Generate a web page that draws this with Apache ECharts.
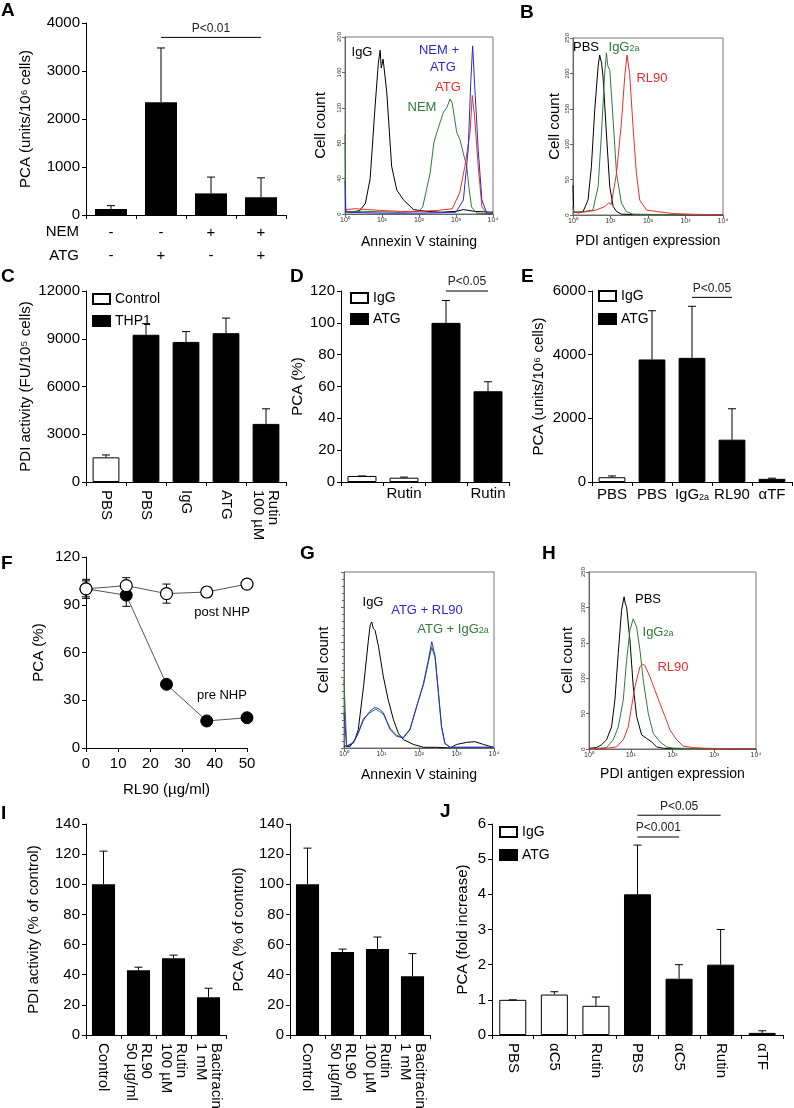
<!DOCTYPE html>
<html>
<head>
<meta charset="utf-8">
<title>PDI / PCA figure</title>
<script src="https://cdn.jsdelivr.net/npm/echarts@6.0.0/dist/echarts.min.js"></script>
<style>
  html, body { margin: 0; padding: 0; background: #fff; }
  #container { width: 794px; height: 1108px; }
</style>
</head>
<body>
<div id="container"></div>
<script type="text/javascript">

// ---------- values ----------
// A (bars)
var aValues = [125, 2350, 450, 370];
var aErrTop = [195, 3480, 790, 775];
var aNem = ['-', '-', '+', '+'];
var aAtg = ['-', '+', '-', '+'];

// A (annexin V histogram), points are [decade, count]
var aHistIgG = [[0, 3], [0.2, 2], [0.4, 4], [0.55, 12], [0.68, 40], [0.81, 120], [0.9, 170], [0.95, 185], [0.98, 165], [1.03, 175], [1.13, 137], [1.26, 54], [1.4, 27], [1.58, 16], [1.85, 5], [2.2, 3], [2.6, 2], [3.0, 3], [3.2, 5], [3.5, 3], [4, 2]];
var aHistNem = [[0, 90], [0.02, 3], [0.5, 3], [1.5, 2], [2.0, 3], [2.1, 8], [2.3, 46], [2.4, 80], [2.48, 92], [2.66, 115], [2.75, 120], [2.84, 130], [2.9, 125], [3.02, 92], [3.1, 85], [3.15, 77], [3.22, 65], [3.29, 54], [3.35, 30], [3.42, 8], [3.56, 1], [4, 0]];
var aHistAtg = [[0, 5], [0.3, 6], [0.6, 5], [1.0, 4], [1.5, 3], [2.0, 3], [2.5, 4], [2.9, 6], [3.1, 24], [3.24, 54], [3.38, 92], [3.44, 134], [3.5, 111], [3.6, 54], [3.7, 8], [3.83, 1], [4, 0]];
var aHistNemAtg = [[0, 38], [0.02, 2], [1, 1], [2, 1], [3.0, 2], [3.2, 16], [3.33, 73], [3.4, 150], [3.45, 190], [3.5, 149], [3.6, 73], [3.7, 16], [3.83, 1], [4, 0]];

// B (PDI antigen histogram)
var bHistPbs = [[0, 42], [0.02, 4], [0.15, 3], [0.27, 5], [0.4, 21], [0.49, 68], [0.58, 149], [0.67, 210], [0.71, 226], [0.76, 215], [0.8, 196], [0.89, 116], [0.98, 40], [1.07, 12], [1.16, 5], [1.3, 1], [4, 0]];
var bHistIgG2a = [[0, 12], [0.02, 4], [0.3, 5], [0.53, 7], [0.67, 40], [0.76, 116], [0.84, 196], [0.89, 229], [0.93, 210], [0.98, 205], [1.07, 134], [1.16, 59], [1.29, 17], [1.42, 5], [1.6, 1], [4, 0]];
var bHistRl90 = [[0, 4], [0.3, 4], [0.62, 7], [0.85, 12], [0.95, 17], [1.02, 15], [1.07, 14], [1.16, 59], [1.29, 130], [1.38, 196], [1.44, 226], [1.51, 200], [1.6, 125], [1.69, 59], [1.78, 21], [1.96, 7], [2.22, 5], [2.67, 2], [3.2, 1], [4, 0]];

// C
var cLabels = ['PBS', 'PBS', 'IgG', 'ATG', 'Rutin\n100 µM'];
var cValues = [1550, 9250, 8800, 9350, 3650];
var cErrTop = [1700, 9950, 9450, 10300, 4600];
var cGroup = [0, 1, 1, 1, 1];

// D
var dLabels = ['', 'Rutin', '', 'Rutin'];
var dValues = [3.8, 2.7, 100, 57];
var dErrTop = [3.8, 3.1, 114, 63];
var dGroup = [0, 0, 1, 1];

// E
var eLabels = ['PBS', 'PBS', 'IgG{s|2a}', 'RL90', 'αTF'];
var eValues = [150, 3850, 3900, 1330, 100];
var eErrTop = [190, 5380, 5520, 2300, 120];
var eGroup = [0, 1, 1, 1, 1];

// F
var fDose = [0, 12.5, 25, 37.5, 50];
var fPost = [100, 102, 97, 98, 103];
var fPostSd = [6, 5, 6, 3, 0];
var fPre = [100, 96, 40, 17, 19];
var fPreSd = [5, 7, 0, 0, 0];

// G (annexin V histogram)
var gHistIgG = [[0, 3], [0.16, 2], [0.29, 12], [0.38, 26], [0.52, 87], [0.65, 153], [0.7, 175], [0.74, 179], [0.78, 170], [0.83, 167], [0.92, 144], [1.05, 101], [1.18, 68], [1.32, 40], [1.45, 21], [1.58, 12], [1.85, 5], [2.12, 1], [2.47, 1], [2.83, 0], [3.0, 5], [3.27, 8], [3.49, 9], [3.72, 5], [3.98, 1]];
var gHistIgG2a = [[0, 97], [0.07, 3], [0.25, 8], [0.38, 22], [0.52, 42], [0.69, 50], [0.85, 55], [0.95, 52], [1.05, 48], [1.23, 28], [1.4, 18], [1.58, 15], [1.76, 27], [1.94, 60], [2.12, 90], [2.25, 122], [2.34, 143], [2.43, 128], [2.52, 76], [2.6, 30], [2.69, 6], [2.83, 1], [4, 1]];
var gHistRl90 = [[0, 50], [0.07, 2], [0.25, 7], [0.38, 21], [0.52, 40], [0.69, 52], [0.8, 57], [0.87, 57], [0.95, 55], [1.05, 50], [1.23, 26], [1.4, 17], [1.58, 14], [1.76, 26], [1.94, 59], [2.12, 92], [2.25, 125], [2.34, 151], [2.43, 130], [2.52, 78], [2.6, 31], [2.69, 7], [2.83, 1], [4, 1]];

// H (PDI antigen histogram)
var hHistPbs = [[0, 1], [0.18, 2], [0.3, 6], [0.42, 13], [0.54, 31], [0.62, 69], [0.7, 135], [0.78, 196], [0.84, 215], [0.87, 205], [0.9, 201], [0.98, 154], [1.06, 88], [1.14, 46], [1.26, 20], [1.38, 15], [1.5, 10], [1.62, 3], [1.78, 1], [4, 0]];
var hHistIgG2a = [[0, 0], [0.42, 2], [0.58, 13], [0.7, 31], [0.82, 69], [0.9, 125], [0.98, 168], [1.06, 184], [1.14, 172], [1.22, 140], [1.3, 97], [1.42, 50], [1.54, 22], [1.7, 10], [1.86, 3], [2.02, 1], [4, 0]];
var hHistRl90 = [[0, 0], [0.42, 1], [0.66, 3], [0.82, 13], [0.94, 31], [1.02, 60], [1.1, 88], [1.22, 116], [1.28, 120], [1.34, 118], [1.46, 102], [1.58, 83], [1.7, 64], [1.82, 46], [1.94, 27], [2.1, 13], [2.26, 4], [2.5, 2], [2.82, 1], [4, 0]];

// I
var iLabels = ['Control', 'RL90\n50 µg/ml', 'Rutin\n100 µM', 'Bacitracin\n1 mM'];
var iPdiValues = [100, 43, 51, 25];
var iPdiErrTop = [122, 45, 53, 31];
var iPcaValues = [100, 55, 57, 39];
var iPcaErrTop = [124, 57, 65, 54];

// J
var jLabels = ['PBS', 'αC5', 'Rutin', 'PBS', 'αC5', 'Rutin', 'αTF'];
var jValues = [1.0, 1.15, 0.83, 4.0, 1.6, 2.0, 0.06];
var jErrTop = [1.0, 1.23, 1.08, 5.4, 2.0, 3.0, 0.12];
var jGroup = [0, 0, 0, 1, 1, 1, 1];

var decadeLabels = ['10⁰', '10¹', '10²', '10³', '10⁴'];

var sigMarks = [
    { g: 0, from: 1, to: 3, y: 3700, text: 'P<0.01' },
    { g: 4, from: 2, to: 3, y: 120, text: 'P<0.05' },
    { g: 5, from: 2, to: 3, y: 5800, text: 'P<0.05' },
    { g: 11, from: 3, to: 4, y: 5.63, text: 'P<0.001' },
    { g: 11, from: 3, to: 5, y: 6.25, text: 'P<0.05' }
];

// ---------- layout ----------
var FONT = 'Liberation Sans';
var FS = 15;
var GREEN = '#2f7a3a', RED = '#e8302a', BLUE = '#2a2ad2';

// [left, top, width, height] for each plot
var boxes = [
    [86, 23, 200, 192],   // 0  A bars
    [345, 37, 148, 177],  // 1  A histogram
    [573, 38, 150, 177],  // 2  B histogram
    [86, 291, 200, 191],  // 3  C
    [341, 291, 168, 191], // 4  D
    [592, 291, 200, 191], // 5  E
    [86, 557, 161, 191],  // 6  F
    [344, 572, 150, 176], // 7  G
    [589, 572, 167, 177], // 8  H
    [86, 824, 140, 211],  // 9  I left
    [290, 824, 140, 211], // 10 I right
    [492, 824, 291, 211]  // 11 J
];
var histGrids = [1, 2, 7, 8];

var dom = document.getElementById('container');
var myChart = echarts.init(dom, null, { renderer: 'canvas' });

function plain(v) { return String(v); }

function catAxis(g, cats, label) {
    return {
        type: 'category', gridIndex: g, data: cats,
        axisLine: { show: true, lineStyle: { color: '#000', width: 1 } },
        axisTick: { show: true, length: 4, lineStyle: { color: '#000' } },
        splitLine: { show: false },
        axisLabel: Object.assign({ color: '#000', fontFamily: FONT, fontSize: FS, margin: 6, interval: 0 }, label || {})
    };
}

function valAxis(g, max, step, name, gap) {
    return {
        type: 'value', gridIndex: g, min: 0, max: max, interval: step,
        name: name, nameLocation: 'middle', nameGap: gap, nameRotate: 90,
        nameTextStyle: { fontFamily: FONT, fontSize: FS, color: '#000' },
        axisLine: { show: true, lineStyle: { color: '#000', width: 1 } },
        axisTick: { show: true, length: 4, lineStyle: { color: '#000' } },
        splitLine: { show: false },
        axisLabel: { color: '#000', fontFamily: FONT, fontSize: FS, margin: 6, formatter: plain }
    };
}

function histX(g, name, gap) {
    return {
        type: 'value', gridIndex: g, min: 0, max: 4, interval: 1,
        name: name, nameLocation: 'middle', nameGap: gap,
        nameTextStyle: { fontFamily: FONT, fontSize: 14, color: '#000' },
        axisLine: { show: true, lineStyle: { color: '#666' } },
        axisTick: { show: true, length: 3, lineStyle: { color: '#666' } },
        splitLine: { show: false },
        axisLabel: { formatter: function (v) { return decadeLabels[v]; }, fontSize: 7, margin: 3, color: '#333', fontFamily: FONT }
    };
}

function histY(g, max, step, gap, showLabel) {
    return {
        type: 'value', gridIndex: g, min: 0, max: max, interval: step,
        name: 'Cell count', nameLocation: 'middle', nameGap: gap, nameRotate: 90,
        nameTextStyle: { fontFamily: FONT, fontSize: 15, color: '#000' },
        axisLine: { show: true, lineStyle: { color: '#666' } },
        axisTick: { show: true, length: 3, lineStyle: { color: '#666' } },
        minorTick: { show: !showLabel, splitNumber: 5, length: 2, lineStyle: { color: '#666' } },
        splitLine: { show: false },
        axisLabel: { show: showLabel, rotate: 90, fontSize: 6, margin: 3, color: '#333', fontFamily: FONT }
    };
}

function histLine(g, data, color) {
    return {
        type: 'line', xAxisIndex: g, yAxisIndex: g, data: data,
        symbol: 'none', lineStyle: { color: color, width: 1 }, z: 3
    };
}

function splitBars(g, values, groups, names, width) {
    var styles = [
        { color: '#fff', borderColor: '#000', borderWidth: 1 },
        { color: '#000', borderColor: '#000', borderWidth: 1 }
    ];
    return names.map(function (name, k) {
        return {
            type: 'bar', name: name, xAxisIndex: g, yAxisIndex: g,
            barWidth: width, barGap: '-100%',
            itemStyle: styles[k],
            data: values.map(function (v, i) { return groups[i] === k ? v : '-'; })
        };
    });
}

function plainBars(g, values, width) {
    return {
        type: 'bar', xAxisIndex: g, yAxisIndex: g, barWidth: width,
        itemStyle: { color: '#000' }, data: values
    };
}

function errBars(g, data, cap, both) {
    return {
        type: 'custom', xAxisIndex: g, yAxisIndex: g, z: both ? 1 : 3,
        silent: true,
        renderItem: function (params, api) {
            var x = api.value(0);
            var lo = api.coord([x, api.value(1)]);
            var hi = api.coord([x, api.value(2)]);
            var st = { stroke: '#000', lineWidth: 1 };
            var kids = [
                { type: 'line', shape: { x1: lo[0], y1: lo[1], x2: hi[0], y2: hi[1] }, style: st },
                { type: 'line', shape: { x1: hi[0] - cap, y1: hi[1], x2: hi[0] + cap, y2: hi[1] }, style: st }
            ];
            if (both) {
                kids.push({ type: 'line', shape: { x1: lo[0] - cap, y1: lo[1], x2: lo[0] + cap, y2: lo[1] }, style: st });
            }
            return { type: 'group', children: kids };
        },
        data: data
    };
}

function upErr(values, tops) {
    return values.map(function (v, i) { return [i, v, tops[i]]; });
}

function legendAt(x, y, names, gap) {
    return {
        left: x, top: y, orient: 'vertical', data: names, icon: 'rect',
        itemWidth: 17, itemHeight: 10, itemGap: gap, padding: 0, selectedMode: false,
        textStyle: { fontSize: 14, fontFamily: FONT, color: '#000' }
    };
}

var subRich = { s: { fontSize: 9, fontFamily: FONT, color: '#000', verticalAlign: 'bottom', padding: [5, 0, 0, 0] } };

var option = {
    animation: false,
    backgroundColor: '#fff',
    textStyle: { fontFamily: FONT },
    grid: boxes.map(function (b, i) {
        return {
            left: b[0], top: b[1], width: b[2], height: b[3],
            containLabel: false, outerBoundsMode: 'none',
            show: histGrids.indexOf(i) >= 0, borderColor: '#777', borderWidth: 1
        };
    }),
    legend: [
        legendAt(92, 292, ['Control', 'THP1'], 8),
        legendAt(350, 291, ['IgG', 'ATG'], 7),
        legendAt(598, 289, ['IgG', 'ATG'], 9),
        legendAt(499, 825, ['IgG', 'ATG'], 9)
    ],
    xAxis: [
        catAxis(0, aNem.map(function (n, i) { return n + '\n' + aAtg[i]; }), { lineHeight: 23, margin: 6 }),
        histX(1, 'Annexin V staining', 21),
        histX(2, 'PDI antigen expression', 19),
        catAxis(3, cLabels, { rotate: -90, margin: 8 }),
        catAxis(4, dLabels, { margin: 4 }),
        catAxis(5, eLabels, { margin: 5, rich: subRich }),
        {
            type: 'value', gridIndex: 6, min: 0, max: 50, interval: 10,
            name: 'RL90 (µg/ml)', nameLocation: 'middle', nameGap: 34,
            nameTextStyle: { fontFamily: FONT, fontSize: FS, color: '#000' },
            axisLine: { show: true, lineStyle: { color: '#000' } },
            axisTick: { show: true, length: 4, lineStyle: { color: '#000' } },
            splitLine: { show: false },
            axisLabel: { color: '#000', fontFamily: FONT, fontSize: FS, margin: 8 }
        },
        histX(7, 'Annexin V staining', 20),
        histX(8, 'PDI antigen expression', 18),
        catAxis(9, iLabels, { rotate: -90, margin: 8 }),
        catAxis(10, iLabels, { rotate: -90, margin: 8 }),
        catAxis(11, jLabels, { rotate: -90, margin: 8 })
    ],
    yAxis: [
        valAxis(0, 4000, 1000, 'PCA (units/10⁶ cells)', 53),
        histY(1, 200, 40, 17, true),
        histY(2, 250, 50, 11, true),
        valAxis(3, 12000, 3000, 'PDI activity (FU/10⁵ cells)', 53),
        valAxis(4, 120, 20, 'PCA (%)', 36),
        valAxis(5, 6000, 2000, 'PCA (units/10⁶ cells)', 46),
        valAxis(6, 120, 30, 'PCA (%)', 40),
        histY(7, 250, 50, 13, false),
        histY(8, 250, 50, 14, true),
        valAxis(9, 140, 20, 'PDI activity (% of control)', 45),
        valAxis(10, 140, 20, 'PCA (% of control)', 44),
        valAxis(11, 6, 1, 'PCA (fold increase)', 22)
    ],
    series: [].concat(
        // A
        plainBars(0, aValues, '64%'),
        errBars(0, upErr(aValues, aErrTop), 4),
        histLine(1, aHistIgG, '#000'),
        histLine(1, aHistNem, GREEN),
        histLine(1, aHistAtg, RED),
        histLine(1, aHistNemAtg, BLUE),
        // B
        histLine(2, bHistPbs, '#000'),
        histLine(2, bHistIgG2a, GREEN),
        histLine(2, bHistRl90, RED),
        // C
        splitBars(3, cValues, cGroup, ['Control', 'THP1'], '67%'),
        errBars(3, upErr(cValues, cErrTop), 4),
        // D
        splitBars(4, dValues, dGroup, ['IgG', 'ATG'], '69%'),
        errBars(4, upErr(dValues, dErrTop), 4),
        // E
        splitBars(5, eValues, eGroup, ['IgG', 'ATG'], '67%'),
        errBars(5, upErr(eValues, eErrTop), 4),
        // F
        errBars(6, fDose.map(function (x, i) { return [x, fPost[i] - fPostSd[i], fPost[i] + fPostSd[i]]; }), 4, true),
        errBars(6, fDose.map(function (x, i) { return [x, fPre[i] - fPreSd[i], fPre[i] + fPreSd[i]]; }), 4, true),
        {
            type: 'line', xAxisIndex: 6, yAxisIndex: 6, z: 4,
            data: fDose.map(function (x, i) { return [x, fPre[i]]; }),
            symbol: 'circle', symbolSize: 12,
            lineStyle: { color: '#555', width: 1 },
            itemStyle: { color: '#000', borderColor: '#000', borderWidth: 1 }
        },
        {
            type: 'line', xAxisIndex: 6, yAxisIndex: 6, z: 5,
            data: fDose.map(function (x, i) { return [x, fPost[i]]; }),
            symbol: 'circle', symbolSize: 12,
            lineStyle: { color: '#555', width: 1 },
            itemStyle: { color: '#fff', borderColor: '#000', borderWidth: 1.2 }
        },
        // G
        histLine(7, gHistIgG, '#000'),
        histLine(7, gHistIgG2a, GREEN),
        histLine(7, gHistRl90, BLUE),
        // H
        histLine(8, hHistPbs, '#000'),
        histLine(8, hHistIgG2a, GREEN),
        histLine(8, hHistRl90, RED),
        // I
        plainBars(9, iPdiValues, '66%'),
        errBars(9, upErr(iPdiValues, iPdiErrTop), 4),
        plainBars(10, iPcaValues, '66%'),
        errBars(10, upErr(iPcaValues, iPcaErrTop), 4),
        // J
        splitBars(11, jValues, jGroup, ['IgG', 'ATG'], '65%'),
        errBars(11, upErr(jValues, jErrTop), 4)
    )
};

myChart.setOption(option);

// ---------- annotations (letters, histogram labels, significance bars) ----------
function label(x, y, text, color, size, extra) {
    return {
        type: 'text', x: x, y: y, z: 10,
        style: Object.assign({
            text: text, fill: color, fontFamily: FONT, fontSize: size || 13,
            align: 'center', verticalAlign: 'middle'
        }, extra || {})
    };
}

function letter(x, y, t) {
    return label(x, y, t, '#000', 19, { fontWeight: 'bold', align: 'left', verticalAlign: 'top' });
}

function subLabel(x, y, base, sub, color) {
    return label(x, y, base + '{s|' + sub + '}', color, 13, {
        rich: { s: { fontSize: 9, fill: color, fontFamily: FONT, verticalAlign: 'bottom', padding: [4, 0, 0, 0] } }
    });
}

var graphics = [
    letter(1, 1, 'A'), letter(520, 3, 'B'), letter(1, 267, 'C'), letter(290, 267, 'D'),
    letter(521, 267, 'E'), letter(1, 554, 'F'), letter(300, 544, 'G'), letter(542, 544, 'H'),
    letter(1, 804, 'I'), letter(440, 802, 'J'),
    label(79, 232, 'NEM', '#000', FS, { align: 'right' }),
    label(79, 256, 'ATG', '#000', FS, { align: 'right' }),
    // A histogram
    label(362, 52, 'IgG', '#000'),
    label(439, 50, 'NEM +', BLUE),
    label(443, 67, 'ATG', BLUE),
    label(448, 87, 'ATG', RED),
    label(422, 107, 'NEM', GREEN),
    // B histogram
    label(586, 47, 'PBS', '#000'),
    subLabel(624, 47, 'IgG', '2a', GREEN),
    label(652, 78, 'RL90', RED),
    // F
    label(222, 612, 'post NHP', '#000', 13),
    label(222, 695, 'pre NHP', '#000', 13),
    // G histogram
    label(373, 602, 'IgG', '#000'),
    label(427, 610, 'ATG + RL90', BLUE),
    subLabel(453, 629, 'ATG + IgG', '2a', GREEN),
    // H histogram
    label(648, 599, 'PBS', '#000'),
    subLabel(658, 632, 'IgG', '2a', GREEN),
    label(673, 667, 'RL90', RED)
];

sigMarks.forEach(function (s) {
    var p1 = myChart.convertToPixel({ gridIndex: s.g }, [s.from, s.y]);
    var p2 = myChart.convertToPixel({ gridIndex: s.g }, [s.to, s.y]);
    graphics.push({
        type: 'line', z: 10,
        shape: { x1: p1[0], y1: p1[1], x2: p2[0], y2: p2[1] },
        style: { stroke: '#000', lineWidth: 1 }
    });
    graphics.push(label((p1[0] + p2[0]) / 2, p1[1] - 3, s.text, '#222', 12, { verticalAlign: 'bottom' }));
});

myChart.setOption({ graphic: graphics });

window.addEventListener('resize', myChart.resize);
</script>
</body>
</html>
